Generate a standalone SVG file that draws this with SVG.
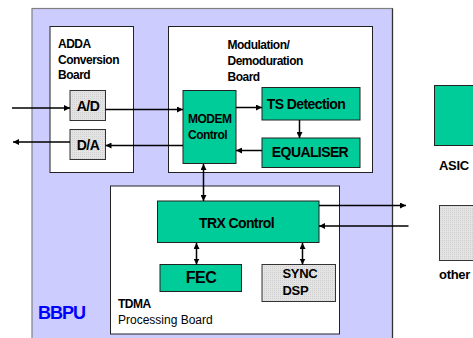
<svg xmlns="http://www.w3.org/2000/svg" width="473" height="338" viewBox="0 0 473 338">
<style>
.board{fill:#fff;stroke:#222;stroke-width:1}
.green{fill:#00CC99;stroke:#222;stroke-width:1}
.gray{fill:url(#grid);stroke:#333;stroke-width:1}
.lbl{font-family:"Liberation Sans",Arial,sans-serif;font-size:12px;font-weight:bold;letter-spacing:-0.5px;fill:#000}
.reg{font-family:"Liberation Sans",Arial,sans-serif;font-size:12px;fill:#000}
.big{font-family:"Liberation Sans",Arial,sans-serif;font-size:14px;font-weight:bold;letter-spacing:-0.6px;fill:#000}
.mid{font-family:"Liberation Sans",Arial,sans-serif;font-size:13px;font-weight:bold;letter-spacing:-0.3px;fill:#000}
.conn line{stroke:#000;stroke-width:1.5;fill:none}
</style>
<defs>
<pattern id="grid" width="2" height="2" patternUnits="userSpaceOnUse">
<rect width="2" height="2" fill="#E4E4E4"/>
<rect width="1" height="1" fill="#CFCFCF"/>
</pattern>
<marker id="ah" viewBox="0 0 10 10" refX="10" refY="5" markerWidth="6" markerHeight="6" markerUnits="userSpaceOnUse" orient="auto-start-reverse">
<path d="M0,0 L10,5 L0,10 z" fill="#000"/>
</marker>
</defs>
<g id="bbpu">
<rect x="32" y="8.5" width="360.5" height="340" fill="#CCCCFF" stroke="#808080" stroke-width="1.2"/>
<line x1="392.5" y1="8.5" x2="392.5" y2="338" stroke="#333" stroke-width="1.2"/>
<text x="38" y="319" font-family="Liberation Sans,Arial,sans-serif" font-size="18" font-weight="bold" letter-spacing="-1" fill="#0000FF">BBPU</text>
</g>
<g id="adda-board">
<rect class="board" x="50" y="26.5" width="83.5" height="146"/>
<text class="lbl" x="58" y="47.5">ADDA</text>
<text class="lbl" x="58" y="63.5">Conversion</text>
<text class="lbl" x="58" y="79">Board</text>
</g>
<g id="modem-board">
<rect class="board" x="168.5" y="26.5" width="204" height="146"/>
<text class="lbl" x="227.5" y="49">Modulation/</text>
<text class="lbl" x="227.5" y="65">Demoduration</text>
<text class="lbl" x="227.5" y="81">Board</text>
</g>
<g id="tdma-board">
<rect class="board" x="110.5" y="186" width="229" height="148"/>
<text class="lbl" x="118" y="307.5">TDMA</text>
<text class="reg" x="118" y="323.5">Processing Board</text>
</g>
<g id="ad">
<rect class="gray" x="70" y="90.5" width="35.5" height="30"/>
<text class="big" x="88" y="111" text-anchor="middle">A/D</text>
</g>
<g id="da">
<rect class="gray" x="70" y="129.5" width="35.5" height="30"/>
<text class="big" x="88" y="150" text-anchor="middle">D/A</text>
</g>
<g id="modem-control">
<rect class="green" x="183" y="90.5" width="53" height="73"/>
<text class="lbl" x="188" y="122.5">MODEM</text>
<text class="lbl" x="188" y="139">Control</text>
</g>
<g id="ts-detection">
<rect class="green" x="262" y="87.5" width="98" height="32.5"/>
<text class="big" x="306" y="108.5" text-anchor="middle">TS Detection</text>
</g>
<g id="equaliser">
<rect class="green" x="262" y="138" width="98" height="29.5"/>
<text class="big" x="310" y="157" text-anchor="middle">EQUALISER</text>
</g>
<g id="trx-control">
<rect class="green" x="157.5" y="201" width="161.5" height="41.5"/>
<text class="big" x="236.5" y="227.5" text-anchor="middle">TRX Control</text>
</g>
<g id="fec">
<rect class="green" x="160" y="264.5" width="81.5" height="27"/>
<text x="201" y="282.5" text-anchor="middle" font-family="Liberation Sans,Arial,sans-serif" font-size="16" font-weight="bold" letter-spacing="-0.5">FEC</text>
</g>
<g id="sync-dsp">
<rect class="gray" x="262" y="264.5" width="73.5" height="37"/>
<text class="mid" x="282.5" y="278">SYNC</text>
<text class="mid" x="282.5" y="295">DSP</text>
</g>
<g id="legend-asic">
<rect class="green" x="434.5" y="85.5" width="45" height="60"/>
<text class="mid" x="439" y="169.5">ASIC</text>
</g>
<g id="legend-other">
<rect class="gray" x="439.5" y="205.5" width="40" height="55"/>
<text class="mid" x="439" y="278.5">other</text>
</g>
<g id="connectors" class="conn">
<line x1="12" y1="108" x2="70" y2="108" marker-end="url(#ah)"/>
<line x1="105.5" y1="109.5" x2="183" y2="109.5" marker-end="url(#ah)"/>
<line x1="183" y1="145.5" x2="105.5" y2="145.5" marker-end="url(#ah)"/>
<line x1="70" y1="142" x2="13" y2="142" marker-end="url(#ah)"/>
<line x1="236" y1="107.5" x2="262" y2="107.5" marker-end="url(#ah)"/>
<line x1="299.5" y1="120" x2="299.5" y2="138" marker-end="url(#ah)"/>
<line x1="262" y1="150.5" x2="236" y2="150.5" marker-end="url(#ah)"/>
<line x1="203.5" y1="164" x2="203.5" y2="201" marker-start="url(#ah)" marker-end="url(#ah)"/>
<line x1="196.5" y1="243" x2="196.5" y2="264.5" marker-start="url(#ah)" marker-end="url(#ah)"/>
<line x1="302.5" y1="243" x2="302.5" y2="264.5" marker-start="url(#ah)" marker-end="url(#ah)"/>
<line x1="319" y1="205.5" x2="406" y2="205.5" marker-end="url(#ah)"/>
<line x1="408.5" y1="226" x2="319" y2="226" marker-end="url(#ah)"/>
</g>
</svg>
